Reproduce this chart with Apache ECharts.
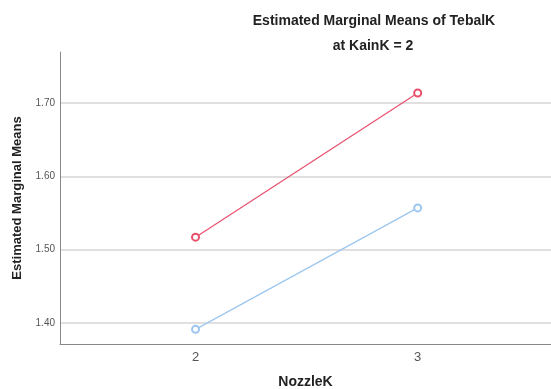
<!DOCTYPE html>
<html><head><meta charset="utf-8">
<script src="https://cdn.jsdelivr.net/npm/echarts@6/dist/echarts.min.js"></script>
<style>html,body{margin:0;padding:0;background:#fff}#c{width:551px;height:389px}</style>
</head><body><div id="c"></div>
<script>
const nozzleCategories = [2, 3];
const seriesRed = [1.517, 1.714];
const seriesBlue = [1.391, 1.557];
const yTicks = [1.40, 1.50, 1.60, 1.70];
const titleLines = ['Estimated Marginal Means of TebalK', 'at KainK = 2'];

const chart = echarts.init(document.getElementById('c'), null, {renderer: 'canvas'});
const font = 'Liberation Sans, Arial, sans-serif';
chart.setOption({
  animation: false,
  backgroundColor: '#fff',
  title: [
    {text: titleLines[0], left: 369, top: 9, textAlign: 'center',
     textStyle: {fontFamily: font, fontSize: 14, fontWeight: 'bold', color: '#222'}},
    {text: titleLines[1], left: 368, top: 34, textAlign: 'center',
     textStyle: {fontFamily: font, fontSize: 14, fontWeight: 'bold', color: '#222'}}
  ],
  grid: {left: 60, top: 52, right: 0, bottom: 45, containLabel: false, outerBoundsMode: 'none'},
  xAxis: {
    type: 'value', min: 1.39, max: 3.6,
    name: 'NozzleK', nameLocation: 'middle', nameGap: 31,
    nameTextStyle: {fontFamily: font, fontSize: 14, fontWeight: 'bold', color: '#222'},
    axisLine: {show: true, lineStyle: {color: '#888', width: 1}},
    axisTick: {show: false, customValues: nozzleCategories},
    axisLabel: {customValues: nozzleCategories, fontFamily: font, fontSize: 13, color: '#555', margin: 7},
    splitLine: {show: false}
  },
  yAxis: {
    type: 'value', min: 1.371, max: 1.770,
    name: 'Estimated Marginal Means', nameLocation: 'middle', nameGap: 36, nameRotate: 90,
    nameTextStyle: {fontFamily: font, fontSize: 13, fontWeight: 'bold', color: '#222'},
    axisLine: {show: true, lineStyle: {color: '#888', width: 1}},
    axisTick: {show: false, customValues: yTicks},
    axisLabel: {customValues: yTicks, formatter: v => v.toFixed(2), fontFamily: font, fontSize: 10, color: '#555', margin: 5},
    splitLine: {show: true, lineStyle: {color: '#d6d6d6', width: 1.5}}
  },
  series: [
    {type: 'line', data: nozzleCategories.map((x, i) => [x, seriesRed[i]]),
     symbol: 'emptyCircle', symbolSize: 7, lineStyle: {color: '#e8506c', width: 1.2},
     itemStyle: {color: '#e8506c', borderWidth: 1}},
    {type: 'line', data: nozzleCategories.map((x, i) => [x, seriesBlue[i]]),
     symbol: 'emptyCircle', symbolSize: 7, lineStyle: {color: '#9cc6f0', width: 1.2},
     itemStyle: {color: '#9cc6f0', borderWidth: 1}}
  ]
});
</script></body></html>
